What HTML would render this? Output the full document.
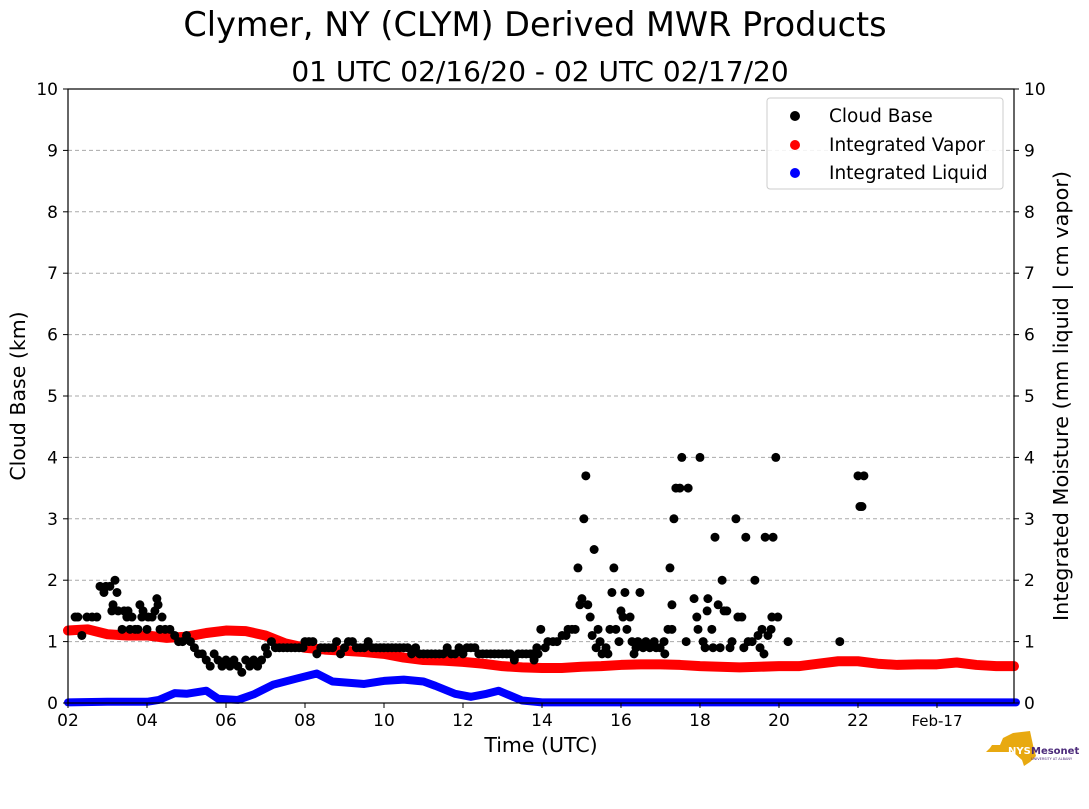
<!DOCTYPE html>
<html><head><meta charset="utf-8">
<style>
body{margin:0;background:#fff;}
svg text{font-family:"DejaVu Sans","Liberation Sans",sans-serif;}
</style></head>
<body>
<svg id="chart" width="1089" height="804" viewBox="0 0 1089 804" xmlns="http://www.w3.org/2000/svg">
<rect width="1089" height="804" fill="#fff"/>
<text x="535" y="36" font-size="33.5" text-anchor="middle">Clymer, NY (CLYM) Derived MWR Products</text>
<text x="540" y="81" font-size="28" text-anchor="middle">01 UTC 02/16/20 - 02 UTC 02/17/20</text>
<g id="grid"></g>
<g id="series"></g>
<rect x="68" y="89" width="946" height="614" fill="none" stroke="#000" stroke-width="1.2"/>
<g id="axes"></g>
<text x="541" y="752" font-size="20.5" text-anchor="middle">Time (UTC)</text>
<text transform="translate(25,396) rotate(-90)" font-size="20.5" text-anchor="middle">Cloud Base (km)</text>
<text transform="translate(1068,396) rotate(-90)" font-size="20.8" text-anchor="middle">Integrated Moisture (mm liquid | cm vapor)</text>
<g>
<rect x="767" y="98" width="236" height="91" rx="3" fill="#fff" fill-opacity="0.85" stroke="#ccc"/>
<circle cx="795" cy="116" r="5" fill="#000"/>
<text x="829" y="122" font-size="18.5">Cloud Base</text>
<circle cx="795" cy="145" r="5" fill="#f00"/>
<text x="829" y="151" font-size="18.5">Integrated Vapor</text>
<circle cx="795" cy="173" r="5" fill="#00f"/>
<text x="829" y="179" font-size="18.5">Integrated Liquid</text>
</g>
<g>
<polygon points="992,745 1000,745 1003,738 1013,733 1030,731 1033,745 1036,756 1030,762 1024,766 1022,760 1013,752 986,752 990,748" fill="#e8a910"/>
<text x="1008" y="754" font-size="10" font-weight="bold" fill="#fff">NYS</text>
<text x="1031" y="754" font-size="10" font-weight="bold" fill="#4b2a7a">Mesonet</text>
<text x="1031" y="760" font-size="3.5" fill="#4b2a7a">UNIVERSITY AT ALBANY</text>
</g>
</svg>
<script>
const xTicks=[2,4,6,8,10,12,14,16,18,20,22,24];
const xTickLabels=["02","04","06","08","10","12","14","16","18","20","22","Feb-17"];
const yTicks=[0,1,2,3,4,5,6,7,8,9,10];
const cbTime=[2.18,2.25,2.35,2.48,2.61,2.73,2.81,2.91,2.96,3.06,3.11,3.14,3.19,3.24,3.27,3.37,3.42,3.49,3.52,3.57,3.62,3.70,3.77,3.82,3.87,3.90,4.0,4.03,4.13,4.20,4.25,4.28,4.33,4.38,4.46,4.58,
4.7,4.8,4.9,5.0,5.1,5.2,5.3,5.4,5.5,5.6,5.7,5.8,5.9,6.0,6.1,6.2,6.3,6.4,6.5,6.6,6.7,6.8,6.9,7.0,7.05,7.15,7.25,7.35,7.45,7.55,7.65,7.75,7.85,7.95,8.0,8.1,8.2,8.3,8.4,8.5,8.6,8.7,8.8,8.9,9.0,9.1,9.2,9.3,9.4,9.5,9.6,9.7,9.8,9.9,10.0,10.1,10.2,10.3,10.4,10.5,10.6,10.7,10.8,10.9,11.0,11.1,11.2,11.3,11.4,11.5,11.6,11.7,11.8,11.9,12.0,12.1,12.2,12.3,12.4,12.5,12.6,12.7,12.8,12.9,13.0,13.1,13.2,13.3,13.4,13.5,13.6,13.7,13.8,13.9,
13.77,13.87,13.97,14.08,14.15,14.28,14.38,14.51,14.61,14.66,14.76,14.84,14.91,14.96,15.01,15.06,15.11,15.16,15.22,15.27,15.32,15.37,15.42,15.47,15.52,15.62,15.67,15.72,15.77,15.82,15.87,15.95,16.0,16.05,16.10,16.15,16.23,16.28,16.33,16.38,16.43,16.48,16.56,16.63,16.73,16.84,16.89,16.99,17.09,17.11,17.19,17.24,17.29,17.29,17.34,17.39,17.49,17.54,17.65,17.70,17.85,17.92,17.95,18.0,18.08,18.13,18.18,18.20,18.30,18.33,18.38,18.46,18.51,18.56,18.61,18.68,18.76,18.81,18.91,18.96,19.06,19.11,19.16,19.22,19.32,19.39,19.47,19.52,19.57,19.62,19.65,19.72,19.80,19.82,19.85,19.92,19.97,20.23,21.54,22.0,22.05,22.10,22.15];
const cbKm=[1.4,1.4,1.1,1.4,1.4,1.4,1.9,1.8,1.9,1.9,1.5,1.6,2.0,1.8,1.5,1.2,1.5,1.4,1.5,1.2,1.4,1.2,1.2,1.6,1.4,1.5,1.2,1.4,1.4,1.5,1.7,1.6,1.2,1.4,1.2,1.2,
1.1,1.0,1.0,1.1,1.0,0.9,0.8,0.8,0.7,0.6,0.8,0.7,0.6,0.7,0.6,0.7,0.6,0.5,0.7,0.6,0.7,0.6,0.7,0.9,0.8,1.0,0.9,0.9,0.9,0.9,0.9,0.9,0.9,0.9,1.0,1.0,1.0,0.8,0.9,0.9,0.9,0.9,1.0,0.8,0.9,1.0,1.0,0.9,0.9,0.9,1.0,0.9,0.9,0.9,0.9,0.9,0.9,0.9,0.9,0.9,0.9,0.8,0.9,0.8,0.8,0.8,0.8,0.8,0.8,0.8,0.9,0.8,0.8,0.9,0.8,0.9,0.9,0.9,0.8,0.8,0.8,0.8,0.8,0.8,0.8,0.8,0.8,0.7,0.8,0.8,0.8,0.8,0.7,0.8,
0.8,0.9,1.2,0.9,1.0,1.0,1.0,1.1,1.1,1.2,1.2,1.2,2.2,1.6,1.7,3.0,3.7,1.6,1.4,1.1,2.5,0.9,1.2,1.0,0.8,0.9,0.8,1.2,1.8,2.2,1.2,1.0,1.5,1.4,1.8,1.2,1.4,1.0,0.8,0.9,1.0,1.8,0.9,1.0,0.9,1.0,0.9,0.9,1.0,0.8,1.2,2.2,1.2,1.6,3.0,3.5,3.5,4.0,1.0,3.5,1.7,1.4,1.2,4.0,1.0,0.9,1.5,1.7,1.2,0.9,2.7,1.6,0.9,2.0,1.5,1.5,0.9,1.0,3.0,1.4,1.4,0.9,2.7,1.0,1.0,2.0,1.1,0.9,1.2,0.8,2.7,1.1,1.2,1.4,2.7,4.0,1.4,1.0,1.0,3.7,3.2,3.2,3.7];
const vapTime=[2.0,2.5,3.0,3.5,4.0,4.5,5.0,5.5,6.0,6.5,7.0,7.5,8.0,8.5,9.0,9.5,10.0,10.5,11.0,11.5,12.0,12.5,13.0,13.5,14.0,14.5,15.0,15.5,16.0,16.5,17.0,17.5,18.0,18.5,19.0,19.5,20.0,20.5,21.0,21.5,22.0,22.5,23.0,23.5,24.0,24.5,25.0,25.5,25.95];
const vapVal=[1.18,1.2,1.12,1.1,1.1,1.06,1.08,1.14,1.18,1.17,1.1,0.97,0.9,0.87,0.85,0.83,0.8,0.74,0.7,0.69,0.67,0.64,0.6,0.58,0.57,0.57,0.59,0.6,0.62,0.63,0.63,0.62,0.6,0.59,0.58,0.59,0.6,0.6,0.64,0.68,0.68,0.64,0.62,0.63,0.63,0.66,0.62,0.6,0.6];
const liqTime=[2.0,3.0,4.0,4.3,4.7,5.0,5.5,5.8,6.3,6.7,7.2,7.8,8.3,8.7,9.5,10.0,10.5,11.0,11.3,11.8,12.2,12.6,12.9,13.2,13.5,14.0,20.0,26.0];
const liqVal=[0.01,0.02,0.02,0.05,0.16,0.15,0.2,0.07,0.05,0.14,0.3,0.4,0.48,0.35,0.31,0.36,0.38,0.35,0.28,0.15,0.1,0.15,0.2,0.12,0.04,0.01,0.01,0.01];
const X0=68,X1=1014,Y0=703,Y1=89,T0=2,T1=25.95;
const xs=t=>X0+(t-T0)/(T1-T0)*(X1-X0);
const ys=v=>Y0-(v/10)*(Y0-Y1);
const NS="http://www.w3.org/2000/svg";
function mk(tag,attrs,parent){const e=document.createElementNS(NS,tag);for(const k in attrs)e.setAttribute(k,attrs[k]);parent.appendChild(e);return e;}
const grid=document.getElementById('grid'),axes=document.getElementById('axes'),ser=document.getElementById('series');
yTicks.forEach(v=>{
  if(v>0&&v<10){const g=mk('line',{x1:X0,x2:X1,y1:ys(v),y2:ys(v),stroke:'#aaa','stroke-dasharray':'4,3'},grid);
  
  }
  const l=mk('text',{x:X0-10,y:ys(v)+6,'font-size':17,'text-anchor':'end'},axes);l.textContent=v;
  
  
  const r=mk('text',{x:X1+10,y:ys(v)+6,'font-size':17,'text-anchor':'start'},axes);r.textContent=v;
  
  
  mk('line',{x1:X0-5,x2:X0,y1:ys(v),y2:ys(v),stroke:'#000'},axes);
  mk('line',{x1:X1,x2:X1+5,y1:ys(v),y2:ys(v),stroke:'#000'},axes);
});
xTicks.forEach((t,i)=>{
  mk('line',{x1:xs(t),x2:xs(t),y1:Y0,y2:Y0+5,stroke:'#000'},axes);
  const l=mk('text',{x:xs(t),y:Y0+23,'font-size':i==xTicks.length-1?15:17,'text-anchor':'middle'},axes);l.textContent=xTickLabels[i];
  
  
});
function line(T,V,color,w,name){
  const p=mk('polyline',{points:T.map((t,i)=>xs(t)+','+ys(V[i])).join(' '),fill:'none',stroke:color,'stroke-width':w,'stroke-linejoin':'round','stroke-linecap':'round'},ser);
  
  
}
line(vapTime,vapVal,'#f00',10,'integrated-vapor-line');
line(liqTime,liqVal,'#00f',8,'integrated-liquid-line');
cbTime.forEach((t,i)=>{
  const c=mk('circle',{cx:xs(t),cy:ys(cbKm[i]),r:4.5,fill:'#000'},ser);
  
  
});
</script>
</body></html>
